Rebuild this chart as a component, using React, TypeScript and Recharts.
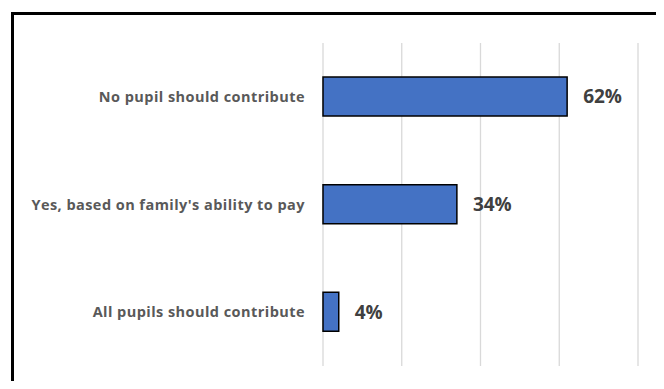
import React from "react";
import { BarChart, Bar, XAxis, YAxis, CartesianGrid, LabelList } from "recharts";

const categories = [
  "No pupil should contribute",
  "Yes, based on family's ability to pay",
  "All pupils should contribute",
];
const values = [62, 34, 4];
const xTicks = [0, 20, 40, 60, 80];

const data = categories.map((c, i) => ({ name: c, value: values[i] }));

const FONT = "'Open Sans', sans-serif";

export default function App() {
  return (
    <div style={{ position: "relative", width: 664, height: 389, margin: -8, overflow: "hidden", background: "#fff" }}>
      <div
        style={{
          position: "absolute",
          left: 11,
          top: 12,
          width: 700,
          height: 400,
          borderLeft: "3.5px solid #000",
          borderTop: "3.5px solid #000",
          boxSizing: "border-box",
        }}
      />
      <div style={{ position: "absolute", left: 0, top: 0 }}>
        <BarChart
          width={664}
          height={389}
          data={data}
          layout="vertical"
          margin={{ top: 43, right: 26, bottom: 23, left: 0 }}
          barSize={39}
        >
          <CartesianGrid horizontal={false} vertical={true} stroke="#d9d9d9" strokeWidth={1.3} />
          <XAxis type="number" domain={[0, 80]} ticks={xTicks} hide />
          <YAxis
            type="category"
            dataKey="name"
            width={323}
            axisLine={false}
            tickLine={false}
            tickSize={0}
            tickMargin={18}
            tick={{ fill: "#595959", fontSize: 14.5, fontWeight: 700, fontFamily: FONT, letterSpacing: 0.45 }}
          />
          <Bar dataKey="value" fill="#4472c4" stroke="#000" strokeWidth={1.5} isAnimationActive={false}>
            <LabelList
              dataKey="value"
              position="right"
              offset={16}
              formatter={(v: any) => `${v}%`}
              style={{ fill: "#404040", fontSize: 19, fontWeight: 700, fontFamily: FONT }}
            />
          </Bar>
        </BarChart>
      </div>
    </div>
  );
}
